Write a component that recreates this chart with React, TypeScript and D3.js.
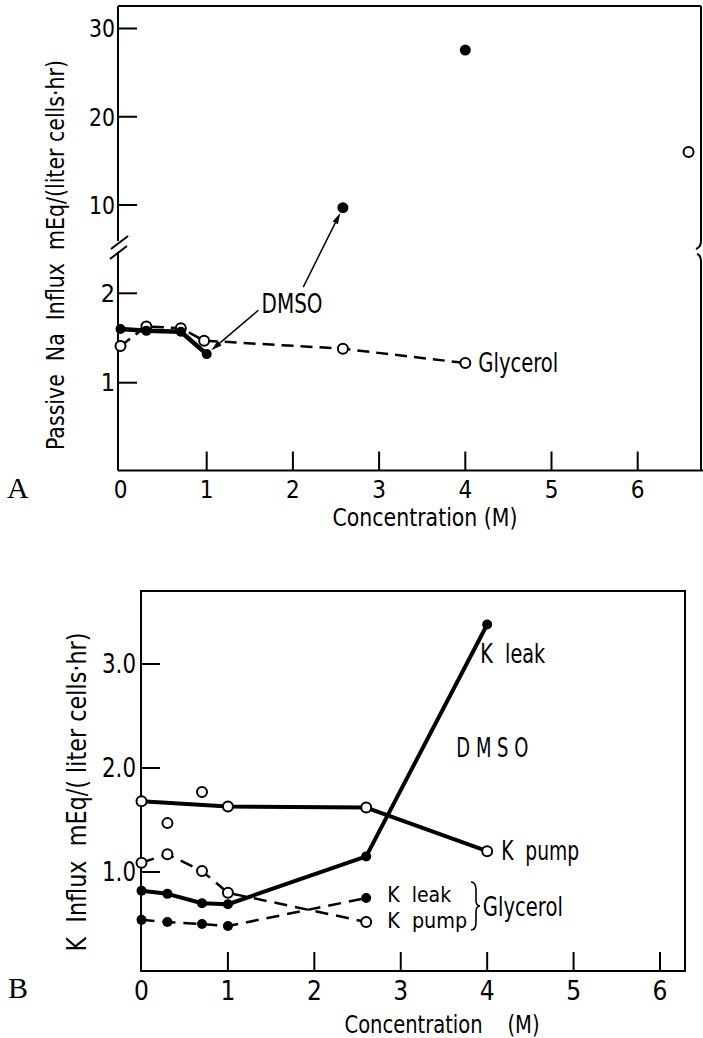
import React from 'react';
import * as d3 from 'd3';

const W = 703;
const H = 1038;
const FONT = "'Liberation Sans Narrow','DejaVu Sans Condensed','Arial Narrow',sans-serif";
const SERIF = "'Liberation Serif','DejaVu Serif',serif";

// ---------- Panel A: Passive Na influx ----------
const aDmsoX = [0, 0.3, 0.7, 1.0];
const aDmsoY = [1.6, 1.58, 1.57, 1.32];
const aDmsoHighX = [2.58, 4.0];
const aDmsoHighY = [9.7, 27.55];
const aGlyX = [0, 0.3, 0.7, 0.97, 2.58, 4.0];
const aGlyY = [1.41, 1.63, 1.61, 1.47, 1.38, 1.22];
const aGlyHighX = [6.59];
const aGlyHighY = [16.0];
const aXTicks = [0, 1, 2, 3, 4, 5, 6];
const aYTicksLow = [1, 2];
const aYTicksHigh = [10, 20, 30];

// ---------- Panel B: K influx ----------
const bConc = [0, 0.3, 0.7, 1.0, 2.6, 4.0];
const bDmsoLeak = [0.82, 0.79, 0.7, 0.69, 1.15, 3.38];
const bDmsoPumpX = [0, 1.0, 2.6, 4.0];
const bDmsoPumpY = [1.68, 1.63, 1.62, 1.2];
const bDmsoPumpExtraX = [0.3, 0.7];
const bDmsoPumpExtraY = [1.47, 1.77];
const bGlyConc = [0, 0.3, 0.7, 1.0, 2.6];
const bGlyPump = [1.09, 1.17, 1.01, 0.8, 0.52];
const bGlyLeak = [0.54, 0.52, 0.5, 0.48, 0.75];
const bXTicks = [0, 1, 2, 3, 4, 5, 6];
const bYTicks = [1, 2, 3];

// scales
const aBox = { left: 118, right: 701, top: 6, bottom: 470.5 };
const xA = d3.scaleLinear().domain([0, 6]).range([120.5, 637.7]);
const yALow = d3.scaleLinear().domain([1, 2]).range([382.7, 293.3]);
const yAHigh = d3.scaleLinear().domain([10, 30]).range([205, 28.5]);

const bBox = { left: 141, right: 685, top: 591, bottom: 971 };
const xB = d3.scaleLinear().domain([0, 6]).range([141.5, 660]);
const yB = d3.scaleLinear().domain([1, 3]).range([872, 664]);

type P = [number, number];
const zip = (xs: number[], ys: number[]): P[] => xs.map((x, i) => [x, ys[i]]);

const lineA = d3.line<P>().x(d => xA(d[0])).y(d => yALow(d[1]));
const lineB = d3.line<P>().x(d => xB(d[0])).y(d => yB(d[1]));

function Lbl({ x, y, w, size = 26, anchor = 'start', children, transform }: any) {
  return (
    <text x={x} y={y} dy="0.35em" textAnchor={anchor} fontSize={size} textLength={w}
      lengthAdjust="spacingAndGlyphs" xmlSpace="preserve" transform={transform}>{children}</text>
  );
}

function Arrow({ x1, y1, x2, y2, r }: { x1: number; y1: number; x2: number; y2: number; r: number }) {
  const dx = x2 - x1, dy = y2 - y1;
  const len = Math.hypot(dx, dy);
  const ux = dx / len, uy = dy / len;
  const ex = x2 - ux * r, ey = y2 - uy * r;
  const hl = 11, hw = 3;
  const bx = ex - ux * hl, by = ey - uy * hl;
  const px = -uy, py = ux;
  const head = `M${ex},${ey} L${bx + px * hw},${by + py * hw} L${bx - px * hw},${by - py * hw} Z`;
  return (
    <g>
      <line x1={x1} y1={y1} x2={bx} y2={by} stroke="#000" strokeWidth={1.5} />
      <path d={head} fill="#000" />
    </g>
  );
}

export default function App() {
  const tA = 19;
  const tB = 19;
  const t1: P = [xA(aDmsoHighX[0]), yAHigh(aDmsoHighY[0])];
  const t2: P = [xA(aDmsoX[3]), yALow(aDmsoY[3])];
  const aLowTop = 252;
  const aHighBottom = 241;

  return (
    <svg width={W} height={H} style={{ position: 'absolute', left: 0, top: 0, background: '#fff' }} fontFamily={FONT}>
      <rect width={W} height={H} fill="#fff" />

      {/* ================= PANEL A ================= */}
      <g stroke="#000" fill="none" strokeWidth={2}>
        <line x1={aBox.left} y1={aBox.top} x2={aBox.right} y2={aBox.top} />
        <line x1={aBox.left} y1={aBox.top} x2={aBox.left} y2={aHighBottom} />
        <line x1={aBox.left} y1={aLowTop} x2={aBox.left} y2={aBox.bottom} />
        <line x1={aBox.left} y1={aBox.bottom} x2={703} y2={aBox.bottom} />
        <path d={`M${aBox.right},${aBox.top} L${aBox.right},241 Q${aBox.right},247 ${aBox.right - 5},249`} />
        <path d={`M${aBox.right - 4},254 Q${aBox.right},255 ${aBox.right},262 L${aBox.right},${aBox.bottom}`} />
        <line x1={111} y1={249} x2={128} y2={236} />
        <line x1={110} y1={259} x2={127} y2={246} />
      </g>
      {aYTicksHigh.map(v => (
        <g key={'ah' + v}>
          <line x1={aBox.left} x2={aBox.left + tA} y1={yAHigh(v)} y2={yAHigh(v)} stroke="#000" strokeWidth={2} />
          <Lbl x={aBox.left - 3} y={yAHigh(v)} w={26} size={25} anchor="end">{String(v)}</Lbl>
        </g>
      ))}
      {aYTicksLow.map(v => (
        <g key={'al' + v}>
          <line x1={aBox.left} x2={aBox.left + tA} y1={yALow(v)} y2={yALow(v)} stroke="#000" strokeWidth={2} />
          <text x={aBox.left - 3} y={yALow(v)} dy="0.35em" textAnchor="end" fontSize={25}>{v}</text>
        </g>
      ))}
      {aXTicks.map(v => (
        <g key={'ax' + v}>
          {v > 0 && <line x1={xA(v)} x2={xA(v)} y1={aBox.bottom} y2={aBox.bottom - tA} stroke="#000" strokeWidth={2} />}
          <text x={xA(v)} y={498} textAnchor="middle" fontSize={24}>{v}</text>
        </g>
      ))}
      <Lbl x={425} y={517} w={185} size={25} anchor="middle">Concentration (M)</Lbl>
      <Lbl transform="translate(55,255) rotate(-90)" x={0} y={0} w={390} size={25} anchor="middle">Passive  Na  Influx  mEq/(liter cells·hr)</Lbl>
      <text x={7} y={498} fontFamily={SERIF} fontSize={30}>A</text>

      {/* A data */}
      <path d={lineA(zip(aGlyX, aGlyY)) || ''} fill="none" stroke="#000" strokeWidth={2.5} strokeDasharray="12 7" />
      <path d={lineA(zip(aDmsoX, aDmsoY)) || ''} fill="none" stroke="#000" strokeWidth={4.5} strokeLinejoin="round" />
      {zip(aGlyX, aGlyY).map((d, i) => (
        <circle key={'ag' + i} cx={xA(d[0])} cy={yALow(d[1])} r={5} fill="#fff" stroke="#000" strokeWidth={2} />
      ))}
      {zip(aGlyHighX, aGlyHighY).map((d, i) => (
        <circle key={'agh' + i} cx={xA(d[0])} cy={yAHigh(d[1])} r={5} fill="#fff" stroke="#000" strokeWidth={2} />
      ))}
      {zip(aDmsoX, aDmsoY).map((d, i) => (
        <circle key={'ad' + i} cx={xA(d[0])} cy={yALow(d[1])} r={5} fill="#000" />
      ))}
      {zip(aDmsoHighX, aDmsoHighY).map((d, i) => (
        <circle key={'adh' + i} cx={xA(d[0])} cy={yAHigh(d[1])} r={5.5} fill="#000" />
      ))}
      <Lbl x={xA(1.99)} y={yALow(1.88)} w={61} size={26} anchor="middle">DMSO</Lbl>
      <Arrow x1={xA(2.12)} y1={yALow(2.07)} x2={t1[0]} y2={t1[1]} r={6} />
      <Arrow x1={xA(1.6)} y1={yALow(1.81)} x2={t2[0]} y2={t2[1]} r={6} />
      <Lbl x={xA(4.0) + 13} y={yALow(aGlyY[5])} w={80} size={26}>Glycerol</Lbl>

      {/* ================= PANEL B ================= */}
      <rect x={bBox.left} y={bBox.top} width={bBox.right - bBox.left} height={bBox.bottom - bBox.top}
        fill="none" stroke="#000" strokeWidth={2} />
      {bYTicks.map(v => (
        <g key={'by' + v}>
          <line x1={bBox.left} x2={bBox.left + tB} y1={yB(v)} y2={yB(v)} stroke="#000" strokeWidth={2} />
          <Lbl x={bBox.left - 5} y={yB(v)} w={34} size={26} anchor="end">{v.toFixed(1)}</Lbl>
        </g>
      ))}
      {bXTicks.map(v => (
        <g key={'bx' + v}>
          {v > 0 && <line x1={xB(v)} x2={xB(v)} y1={bBox.bottom} y2={bBox.bottom - tB} stroke="#000" strokeWidth={2} />}
          <text x={xB(v)} y={1000} textAnchor="middle" fontSize={26}>{v}</text>
        </g>
      ))}
      <Lbl x={442} y={1024} w={195} size={25} anchor="middle">Concentration    (M)</Lbl>
      <Lbl transform="translate(77,792) rotate(-90)" x={0} y={0} w={319} size={26} anchor="middle">K  Influx  mEq/( liter cells·hr)</Lbl>
      <text x={8} y={998} fontFamily={SERIF} fontSize={30}>B</text>

      {/* B data */}
      <path d={lineB(zip(bGlyConc, bGlyPump)) || ''} fill="none" stroke="#000" strokeWidth={2.5} strokeDasharray="13 8" />
      <path d={lineB(zip(bGlyConc, bGlyLeak)) || ''} fill="none" stroke="#000" strokeWidth={2.5} strokeDasharray="13 8" />
      <path d={lineB(zip(bDmsoPumpX, bDmsoPumpY)) || ''} fill="none" stroke="#000" strokeWidth={4} strokeLinejoin="round" />
      <path d={lineB(zip(bConc, bDmsoLeak)) || ''} fill="none" stroke="#000" strokeWidth={4} strokeLinejoin="round" />

      {zip(bDmsoPumpX, bDmsoPumpY).concat(zip(bDmsoPumpExtraX, bDmsoPumpExtraY)).map((d, i) => (
        <circle key={'bp' + i} cx={xB(d[0])} cy={yB(d[1])} r={5} fill="#fff" stroke="#000" strokeWidth={2} />
      ))}
      {zip(bGlyConc, bGlyPump).map((d, i) => (
        <circle key={'bgp' + i} cx={xB(d[0])} cy={yB(d[1])} r={5} fill="#fff" stroke="#000" strokeWidth={2} />
      ))}
      {zip(bConc, bDmsoLeak).map((d, i) => (
        <circle key={'bl' + i} cx={xB(d[0])} cy={yB(d[1])} r={5} fill="#000" />
      ))}
      {zip(bGlyConc, bGlyLeak).map((d, i) => (
        <circle key={'bgl' + i} cx={xB(d[0])} cy={yB(d[1])} r={5} fill="#000" />
      ))}

      <Lbl x={xB(3.92)} y={yB(3.1)} w={65} size={26}>K  leak</Lbl>
      <Lbl x={xB(4.06)} y={yB(2.19)} w={72} size={26} anchor="middle">D M S O</Lbl>
      <Lbl x={xB(4.0) + 14} y={yB(bDmsoPumpY[3])} w={78} size={26}>K  pump</Lbl>
      <Lbl x={xB(2.6) + 21} y={yB(0.785)} w={64} size={22}>K  leak</Lbl>
      <Lbl x={xB(2.6) + 21} y={yB(0.535)} w={80} size={22}>K  pump</Lbl>
      <path d="M471,882 Q476,882 476,890 L476,900 Q476,906 480,906 Q476,906 476,912 L476,922 Q476,930 471,930"
        fill="none" stroke="#000" strokeWidth={1.6} />
      <Lbl x={xB(3.95)} y={yB(0.665)} w={80} size={26}>Glycerol</Lbl>
    </svg>
  );
}
